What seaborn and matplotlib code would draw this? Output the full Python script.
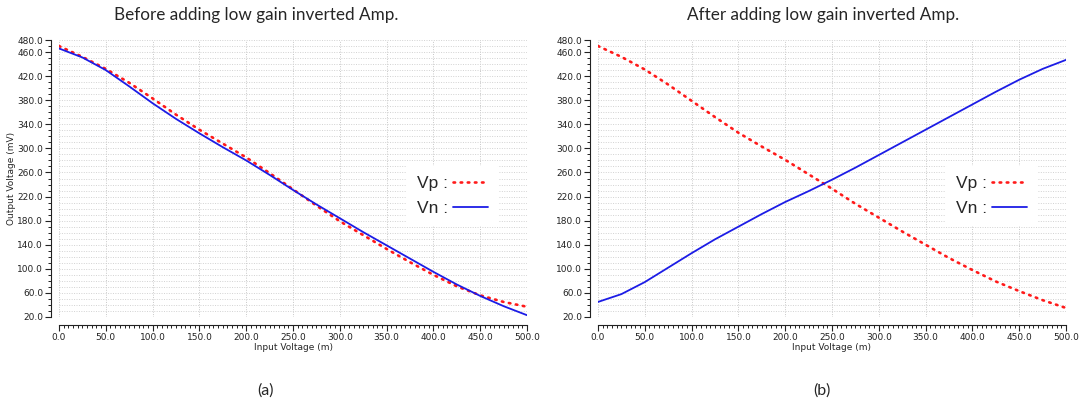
import numpy as np
import pandas as pd
import matplotlib
matplotlib.use("Agg")
import matplotlib.pyplot as plt
from matplotlib.ticker import MultipleLocator, FixedLocator, FormatStrFormatter
from matplotlib.lines import Line2D
import seaborn as sns

# ---------------- data ----------------
x_in = [0, 25, 50, 75, 100, 125, 150, 175, 200, 225, 250,
        275, 300, 325, 350, 375, 400, 425, 450, 475, 500]

# (a) before adding low gain inverted amp
vp_before = [470, 452, 432, 409, 383, 356, 331, 308, 285, 259, 232,
             205, 179, 156, 133, 111, 90, 71, 56, 45, 37]
vn_before = [466, 451, 430, 403, 375, 349, 325, 302, 280, 256, 231,
             207, 184, 161, 139, 117, 95, 74, 55, 38, 23]

# (b) after adding low gain inverted amp
vp_after = [470, 452, 431, 406, 379, 352, 326, 303, 281, 257, 233,
            208, 185, 162, 140, 118, 98, 79, 63, 48, 35]
vn_after = [45, 58, 78, 102, 126, 149, 170, 191, 211, 229, 248,
            268, 289, 310, 331, 352, 373, 394, 414, 432, 447]

titles = ["Before adding low gain inverted Amp.", "After adding low gain inverted Amp."]
panel_tags = ["(a)", "(b)"]
legend_labels = ["Vp :", "Vn :"]
y_tick_labels = [20, 60, 100, 140, 180, 220, 260, 300, 340, 380, 420, 460, 480]
x_label = "Input Voltage (m)"
y_label = "Output Voltage (mV)"

# ---------------- figure ----------------
sns.set_style("white")
plt.rcParams["font.family"] = ["DejaVu Sans"]

W, H = 1090, 408
fig = plt.figure(figsize=(W / 100, H / 100), dpi=100)

red = "#ff1a1a"
blue = "#1c1ce6"
dot_style = (0, (0.6, 2.1))

axes_px = [(59, 527), (598, 1066)]
top_px, bot_px = 40, 317

datasets = [(vp_before, vn_before), (vp_after, vn_after)]

for i, ((l, r), (vp, vn)) in enumerate(zip(axes_px, datasets)):
    ax = fig.add_axes([l / W, 1 - bot_px / H, (r - l) / W, (bot_px - top_px) / H])
    df = pd.DataFrame({
        "x": x_in * 2,
        "v": list(vp) + list(vn),
        "s": ["Vp"] * len(x_in) + ["Vn"] * len(x_in),
    })
    sns.lineplot(data=df[df.s == "Vp"], x="x", y="v", ax=ax, color=red,
                 linewidth=1.9, legend=False, zorder=3)
    ax.lines[-1].set_linestyle(dot_style)
    ax.lines[-1].set_dash_capstyle("round")
    sns.lineplot(data=df[df.s == "Vn"], x="x", y="v", ax=ax, color=blue,
                 linewidth=1.3, legend=False, zorder=4)

    ax.set_xlim(0, 500)
    ax.set_ylim(20, 480)
    ax.set_xlabel(x_label, fontsize=6.5, labelpad=1)
    ax.set_ylabel(y_label if i == 0 else "", fontsize=6.5, labelpad=0.5)

    ax.xaxis.set_major_locator(MultipleLocator(50))
    ax.xaxis.set_minor_locator(MultipleLocator(5))
    ax.xaxis.set_major_formatter(FormatStrFormatter("%.1f"))
    ax.yaxis.set_major_locator(FixedLocator(y_tick_labels))
    ax.yaxis.set_minor_locator(MultipleLocator(10))
    ax.yaxis.set_major_formatter(FormatStrFormatter("%.1f"))

    ax.tick_params(axis="x", which="both", bottom=True, top=False)
    ax.tick_params(axis="y", which="both", left=True, right=False)
    ax.tick_params(axis="both", which="major", direction="out", length=4,
                   width=0.8, labelsize=6.5, pad=1.5, color="#222222",
                   labelcolor="#222222")
    ax.tick_params(axis="both", which="minor", direction="out", length=2.5,
                   width=0.7, color="#222222")

    for side in ("top", "right"):
        ax.spines[side].set_visible(False)
    for side in ("left", "bottom"):
        ax.spines[side].set_position(("outward", 6))
        ax.spines[side].set_linewidth(0.8)
        ax.spines[side].set_color("#222222")

    ax.grid(True, which="major", axis="x", linestyle=(0, (1, 1.5)),
            color="#c8c8c8", linewidth=0.7)
    ax.grid(True, which="both", axis="y", linestyle=(0, (1, 1.5)),
            color="#d2d2d2", linewidth=0.7)
    ax.set_axisbelow(True)

    handles = [
        Line2D([], [], color=red, linewidth=1.9, linestyle=dot_style,
               dash_capstyle="round"),
        Line2D([], [], color=blue, linewidth=1.3),
    ]
    leg = ax.legend(handles, legend_labels, loc="upper right",
                    bbox_to_anchor=(0.955, 0.575), frameon=True,
                    markerfirst=False, handlelength=2.0, handletextpad=0.3,
                    labelspacing=0.55, borderpad=0.55, fancybox=False,
                    prop={"family": "Liberation Sans", "size": 12.5})
    leg.get_frame().set_facecolor("white")
    leg.get_frame().set_edgecolor("white")
    leg.get_frame().set_alpha(1)

fig.text(256 / W, 1 - 15 / H, titles[0], ha="center", va="center",
         fontsize=12.3, family="Lato")
fig.text(823 / W, 1 - 15 / H, titles[1], ha="center", va="center",
         fontsize=12.3, family="Lato")
fig.text(266 / W, 1 - 391 / H, panel_tags[0], ha="center", va="center",
         fontsize=11.5, family="Lato")
fig.text(822 / W, 1 - 391 / H, panel_tags[1], ha="center", va="center",
         fontsize=11.5, family="Lato")

fig.savefig("out.png", dpi=100, facecolor="white")
